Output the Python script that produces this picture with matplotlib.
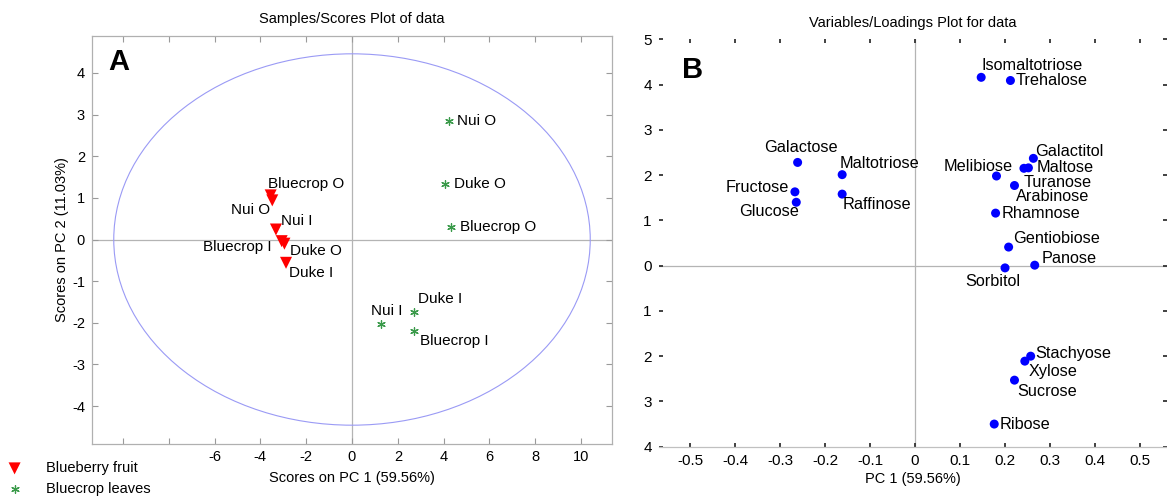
import matplotlib
matplotlib.use("Agg")
import matplotlib.pyplot as plt
from matplotlib.patches import Ellipse

plt.rcParams['font.family'] = ['Liberation Sans', 'DejaVu Sans']
plt.rcParams['axes.unicode_minus'] = False

# ---------------- Panel A data (scores) ----------------
fruit_names = ["Bluecrop O", "Nui O", "Nui I", "Bluecrop I", "Duke O", "Duke I"]
fruit_pc1 = [-3.55, -3.48, -3.32, -3.07, -2.95, -2.88]
fruit_pc2 = [1.06, 0.94, 0.24, -0.04, -0.10, -0.56]
# label offsets in pixels (dx, dy, ha)
fruit_lab = [(-3, 11, 'left'), (-2, -10, 'right'), (5, 9, 'left'),
             (-10, -6, 'right'), (6, -7, 'left'), (3, -10, 'left')]

leaf_names = ["Nui O", "Duke O", "Bluecrop O", "Duke I", "Nui I", "Bluecrop I"]
leaf_pc1 = [4.22, 4.05, 4.30, 2.71, 1.26, 2.71]
leaf_pc2 = [2.84, 1.34, 0.30, -1.75, -2.03, -2.19]
leaf_lab = [(8, 0, 'left'), (9, 0, 'left'), (9, 0, 'left'),
            (4, 13, 'left'), (6, 13, 'center'), (6, -10, 'left')]

ellipse_rx = 10.4
ellipse_ry = 4.46

xticks_A = [-10, -8, -6, -4, -2, 0, 2, 4, 6, 8, 10]
xticklabels_A = ["", "", "-6", "-4", "-2", "0", "2", "4", "6", "8", "10"]
yticks_A = [-4, -3, -2, -1, 0, 1, 2, 3, 4]

# ---------------- Panel B data (loadings) ----------------
var_names = ["Isomaltotriose", "Trehalose", "Galactose", "Maltotriose", "Fructose",
             "Glucose", "Raffinose", "Galactitol", "Maltose", "Arabinose",
             "Turanose", "Melibiose", "Rhamnose", "Gentiobiose", "Panose",
             "Sorbitol", "Stachyose", "Xylose", "Sucrose", "Ribose"]
var_pc1 = [0.147, 0.212, -0.261, -0.162, -0.267, -0.264, -0.162, 0.263, 0.252, 0.242,
           0.221, 0.181, 0.179, 0.208, 0.266, 0.200, 0.257, 0.244, 0.221, 0.176]
var_pc2 = [4.16, 4.09, 2.28, 2.01, 1.63, 1.40, 1.58, 2.37, 2.16, 2.15,
           1.77, 1.98, 1.16, 0.41, 0.01, -0.05, -2.00, -2.11, -2.53, -3.50]
var_lab = [(0, 12, 'left'), (5, 0, 'left'), (3, 15, 'center'), (-3, 11, 'left'),
           (-6, 4, 'right'), (3, -9, 'right'), (0, -10, 'left'), (2, 7, 'left'),
           (8, 0, 'left'), (-8, -28, 'left'), (9, 3, 'left'), (16, 10, 'right'),
           (6, 0, 'left'), (4, 9, 'left'), (7, 7, 'left'), (-12, -14, 'center'),
           (5, 3, 'left'), (4, -10, 'left'), (3, -11, 'left'), (5, 0, 'left')]

xticks_B = [-0.5, -0.4, -0.3, -0.2, -0.1, 0, 0.1, 0.2, 0.3, 0.4, 0.5]
xticklabels_B = ["-0.5", "-0.4", "-0.3", "-0.2", "-0.1", "0", "0.1", "0.2", "0.3", "0.4", "0.5"]
yticks_B = [5, 4, 3, 2, 1, 0, -1, -2, -3, -4]
yticklabels_B = ["5", "4", "3", "2", "1", "0", "1", "2", "3", "4"]

# ---------------- Figure ----------------
W, H = 1167, 500
fig = plt.figure(figsize=(W / 100, H / 100), dpi=100)

axA = fig.add_axes([92 / W, 1 - 443.5 / H, 520 / W, 408 / H])
axB = fig.add_axes([658.6 / W, 1 - 446.7 / H, (W - 658.6) / W, 407.4 / H])

# ----- Panel A -----
axA.set_xlim(-11.35, 11.35)
axA.set_ylim(-4.9, 4.9)
axA.axhline(0, color='#b4b4b4', lw=0.9, zorder=1)
axA.axvline(0, color='#b4b4b4', lw=0.9, zorder=1)
axA.add_patch(Ellipse((0, 0), 2 * ellipse_rx, 2 * ellipse_ry, fill=False,
                      edgecolor='#9a9af5', lw=0.8, zorder=2))
sf = axA.scatter(fruit_pc1, fruit_pc2, marker='v', s=75, color='#ff0000',
                 edgecolors='none', zorder=3, label='Blueberry fruit')
leaf_marker = (6, 2, 0)
sl = axA.scatter(leaf_pc1, leaf_pc2, marker=leaf_marker, s=30, color='#3a9a4a',
                 linewidths=0.9, zorder=3, label='Bluecrop leaves')
for n, x, y, (dx, dy, ha) in zip(fruit_names, fruit_pc1, fruit_pc2, fruit_lab):
    axA.annotate(n, (x, y), xytext=(dx, dy), textcoords='offset pixels',
                 ha=ha, va='center', fontsize=11, zorder=4)
for n, x, y, (dx, dy, ha) in zip(leaf_names, leaf_pc1, leaf_pc2, leaf_lab):
    axA.annotate(n, (x, y), xytext=(dx, dy), textcoords='offset pixels',
                 ha=ha, va='center', fontsize=11, zorder=4)

axA.set_xticks(xticks_A)
axA.set_xticklabels(xticklabels_A)
axA.set_yticks(yticks_A)
axA.tick_params(direction='in', top=True, right=True, length=4, width=0.8,
                color='#9a9a9a', labelsize=10.5, pad=5)
for sp in axA.spines.values():
    sp.set_color('#b0b0b0')
    sp.set_linewidth(0.9)
axA.set_title("Samples/Scores Plot of data", fontsize=10.5, pad=9)
axA.set_xlabel("Scores on PC 1 (59.56%)", fontsize=10.5, labelpad=5)
axA.set_ylabel("Scores on PC 2 (11.03%)", fontsize=10.5, labelpad=2)
axA.text(0.031, 0.936, "A", transform=axA.transAxes, fontsize=21,
         fontweight='bold', ha='left', va='center')

fig.legend(handles=[sf, sl], labels=['Blueberry fruit', 'Bluecrop leaves'],
           loc='center left', bbox_to_anchor=(0.0, (H - 478.5) / H),
           frameon=False, fontsize=10.5, handlelength=1.4, handletextpad=1.45,
           labelspacing=0.45, borderpad=0.3, borderaxespad=0.0)

# ----- Panel B -----
axB.set_xlim(-0.57, 0.56)
axB.set_ylim(-4, 5)
axB.axhline(0, color='#b4b4b4', lw=0.9, zorder=1)
axB.axvline(0, color='#b4b4b4', lw=0.9, zorder=1)
axB.scatter(var_pc1, var_pc2, marker='o', s=42, color='#0000ff',
            edgecolors='none', zorder=3)
for n, x, y, (dx, dy, ha) in zip(var_names, var_pc1, var_pc2, var_lab):
    axB.annotate(n, (x, y), xytext=(dx, dy), textcoords='offset pixels',
                 ha=ha, va='center', fontsize=11.7, zorder=4)
axB.set_xticks(xticks_B)
axB.set_xticklabels(xticklabels_B)
axB.set_yticks(yticks_B)
axB.set_yticklabels(yticklabels_B)
axB.tick_params(direction='in', top=True, right=True, length=3, width=1.3,
                color='#333333', labelsize=11, pad=5)
for k in ['top', 'left', 'right']:
    axB.spines[k].set_visible(False)
axB.spines['bottom'].set_color('#c0c0c0')
axB.spines['bottom'].set_linewidth(0.9)
axB.set_title("Variables/Loadings Plot for data", fontsize=10.5, pad=9)
axB.set_xlabel("PC 1 (59.56%)", fontsize=10.5, labelpad=3)
axB.text(0.047, 0.925, "B", transform=axB.transAxes, fontsize=21,
         fontweight='bold', ha='left', va='center')

fig.savefig("out.png", dpi=100)
